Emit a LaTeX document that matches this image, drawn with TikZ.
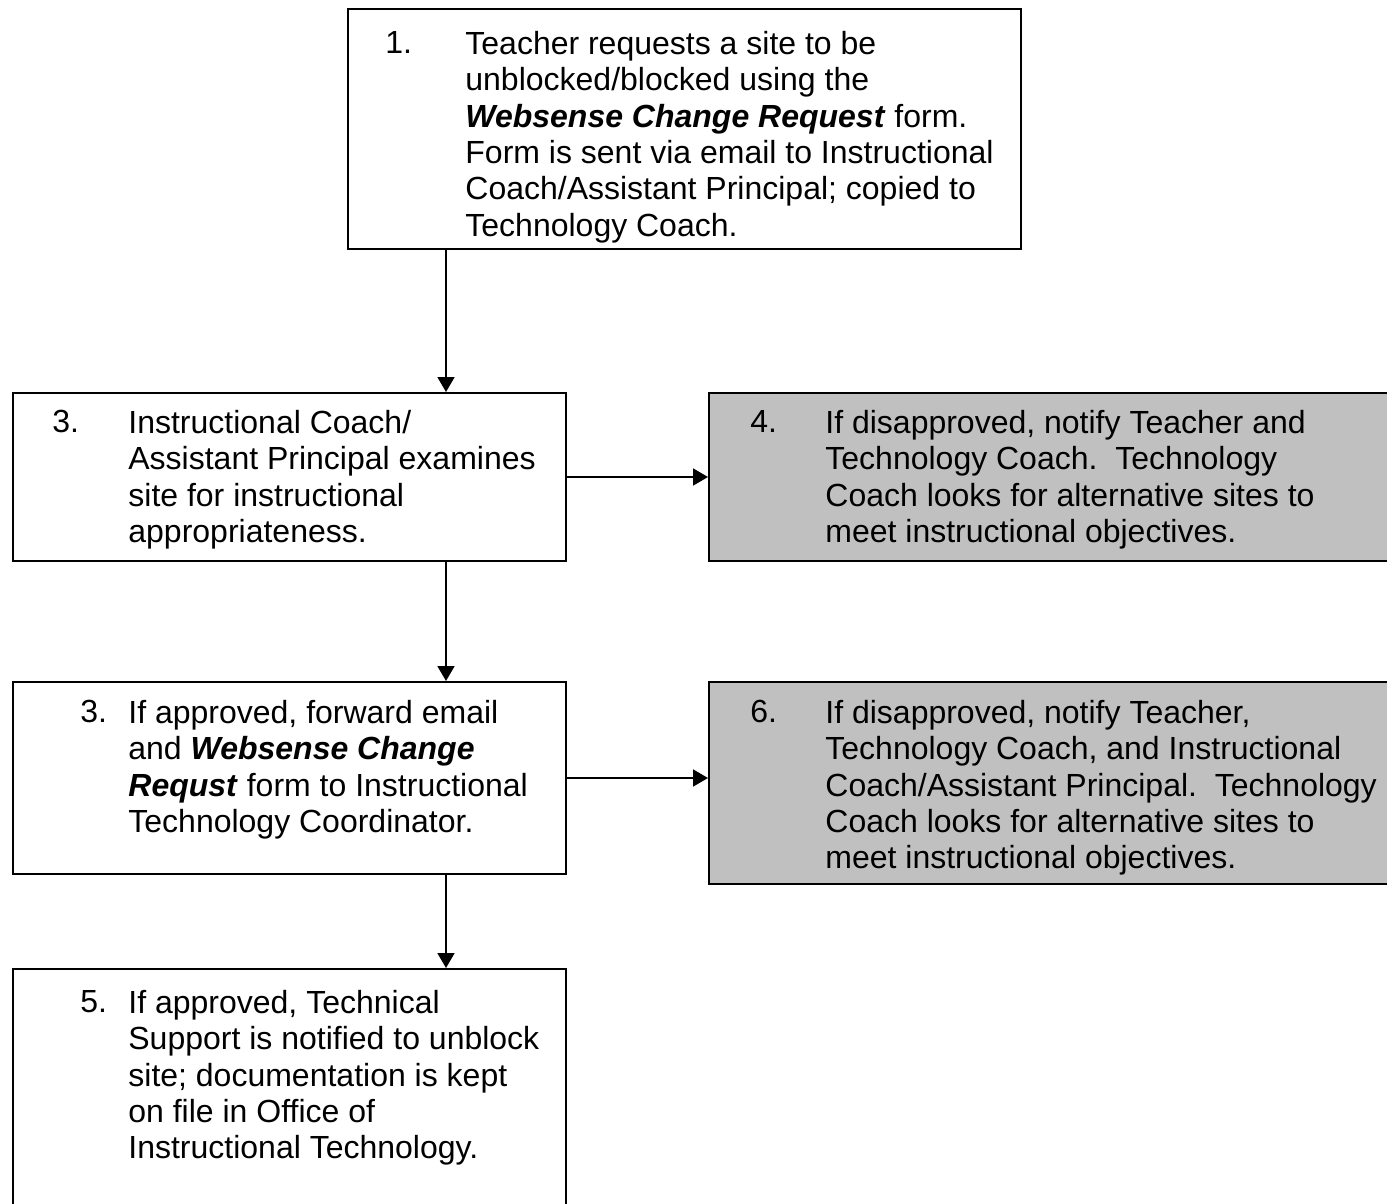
\documentclass[tikz,border=0pt]{standalone}
\usepackage{fontspec}
\setmainfont{Liberation Sans}
\usetikzlibrary{arrows.meta}

\definecolor{boxgrey}{HTML}{C0C0C0}

\tikzset{
  box/.style={draw, line width=1pt, anchor=north west, inner sep=0pt},
  grey box/.style={box, fill=boxgrey},
  txt/.style={anchor=north west, inner sep=0pt, align=left, font=\fontsize{16}{18.15}\selectfont},
  flow/.style={line width=0.9pt, -{Triangle[length=7.5pt,width=8.5pt]}}
}

\begin{document}
\begin{tikzpicture}[x=0.5pt,y=-0.5pt]
\useasboundingbox (0,0) rectangle (1387,1204);

%Boxes
\node[box, minimum width=336.5pt, minimum height=120pt] (request) at (347,8) {};
\node[box, minimum width=276.5pt, minimum height=84pt] (examine) at (12,392) {};
\node[grey box, minimum width=346pt, minimum height=84pt] (denyA) at (708,392) {};
\node[box, minimum width=276.5pt, minimum height=96pt] (forward) at (12,681) {};
\node[grey box, minimum width=346pt, minimum height=101pt] (denyB) at (708,681) {};
\node[box, minimum width=276.5pt, minimum height=130pt] (unblock) at (12,968) {};

%Connectors
\coordinate (spine) at (446,0);
\draw[flow] (request.south -| spine) -- (examine.north -| spine);
\draw[flow] (examine.south -| spine) -- (forward.north -| spine);
\draw[flow] (forward.south -| spine) -- (unblock.north -| spine);
\draw[flow] (examine.east) -- (denyA.west);
\draw[flow] (forward.east) -- (forward.east -| denyB.west);

% Text Node
\node[txt] (n1) at (385,31) {1.};
\node[txt] (t1) at (465,31) {Teacher requests a site to be\\
unblocked/blocked using the\\
\textbf{\textit{Websense Change Request}} form.\\
Form is sent via email to Instructional\\
Coach/Assistant Principal; copied to\\
Technology Coach.};
% Text Node
\node[txt] (n3) at (52,410) {3.};
\node[txt] (t3) at (128,410) {Instructional Coach/\\
Assistant Principal examines\\
site for instructional\\
appropriateness.};
% Text Node
\node[txt] (n4) at (750,410) {4.};
\node[txt] (t4) at (825,410) {If disapproved, notify Teacher and\\
Technology Coach.\ \ Technology\\
Coach looks for alternative sites to\\
meet instructional objectives.};
% Text Node
\node[txt] (n3b) at (80,700) {3.};
\node[txt] (t3b) at (128,700) {If approved, forward email\\
and \textbf{\textit{Websense Change}}\\
\textbf{\textit{Requst}} form to Instructional\\
Technology Coordinator.};
% Text Node
\node[txt] (n6) at (750,700) {6.};
\node[txt] (t6) at (825,700) {If disapproved, notify Teacher,\\
Technology Coach, and Instructional\\
Coach/Assistant Principal.\ \ Technology\\
Coach looks for alternative sites to\\
meet instructional objectives.};
% Text Node
\node[txt] (n5) at (80,990) {5.};
\node[txt] (t5) at (128,990) {If approved, Technical\\
Support is notified to unblock\\
site; documentation is kept\\
on file in Office of\\
Instructional Technology.};

\end{tikzpicture}
\end{document}
